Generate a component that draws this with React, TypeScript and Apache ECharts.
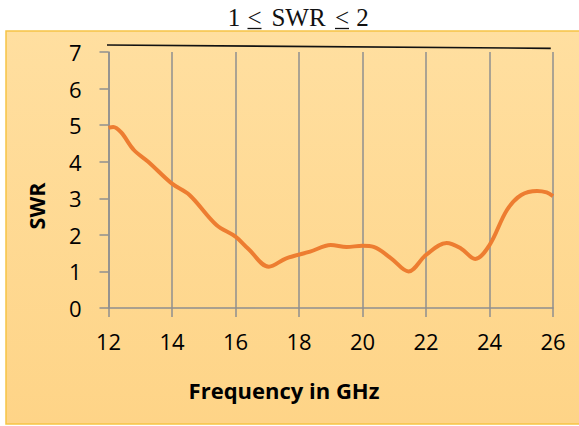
import React, { useEffect, useRef } from "react";
import * as echarts from "echarts";

const freqGHz = [12, 12.15, 12.4, 12.8, 13.25, 14, 14.55, 15.4, 16, 16.4, 17.05, 17.6, 18.35, 19, 19.5, 20, 20.35, 20.9, 21.45, 22, 22.65, 23.1, 23.55, 24, 24.55, 25, 25.5, 25.8, 26];
const swrValues = [4.93, 4.95, 4.8, 4.32, 4.0, 3.4, 3.09, 2.27, 1.95, 1.62, 1.13, 1.36, 1.54, 1.72, 1.67, 1.7, 1.67, 1.36, 1.0, 1.45, 1.78, 1.63, 1.34, 1.72, 2.68, 3.09, 3.2, 3.16, 3.06];
const refLineFreq = [11.93, 25.93];
const refLineSwr = [7.19, 7.1];

const xMin = 12;
const xMax = 26;
const xStep = 2;
const yMin = 0;
const yMax = 7;
const yStep = 1;

const titleParts = ["1", "<", "SWR", "<", "2"];
const xAxisTitle = "Frequency in GHz";
const yAxisTitle = "SWR";

export default function App() {
  const ref = useRef<HTMLDivElement>(null);
  useEffect(() => {
    document.body.style.margin = "0";
    const chart = echarts.init(ref.current!, undefined, { renderer: "svg" });
    const gray = "#8F8F8F";
    const titleX = [234, 254.5, 298.5, 342, 362.5];
    const titleFont = "Liberation Serif";
    const sans = "Open Sans";
    const option: any = {
      animation: false,
      graphic: [
        {
          type: "rect",
          z: -10,
          shape: { x: 6, y: 31, width: 590, height: 393 },
          style: {
            fill: new echarts.graphic.LinearGradient(0, 0, 0, 1, [
              { offset: 0, color: "#FFDFA0" },
              { offset: 1, color: "#FED487" },
            ]),
            stroke: "#F6C445",
            lineWidth: 1.5,
          },
        },
        ...titleParts.map((t, i) => ({
          type: "text",
          x: titleX[i],
          y: 17,
          style: {
            text: t,
            fontSize: 25,
            fontFamily: titleFont,
            fill: "#111",
            align: "center",
            verticalAlign: "middle",
            textAlign: "center",
            textVerticalAlign: "middle",
          },
        })),
        { type: "line", shape: { x1: 247.5, y1: 28.5, x2: 261.5, y2: 28.5 }, style: { stroke: "#111", lineWidth: 1.3 } },
        { type: "line", shape: { x1: 335, y1: 28.5, x2: 349, y2: 28.5 }, style: { stroke: "#111", lineWidth: 1.3 } },
        {
          type: "text",
          x: 284,
          y: 390,
          style: {
            text: xAxisTitle,
            fontSize: 22,
            fontWeight: "bold",
            fontFamily: sans,
            fill: "#000",
            align: "center",
            verticalAlign: "middle",
            textAlign: "center",
            textVerticalAlign: "middle",
          },
        },
        {
          type: "text",
          x: 36,
          y: 206,
          rotation: Math.PI / 2,
          style: {
            text: yAxisTitle,
            fontSize: 21.5,
            fontWeight: "bold",
            fontFamily: sans,
            fill: "#000",
            align: "center",
            verticalAlign: "middle",
            textAlign: "center",
            textVerticalAlign: "middle",
          },
        },
      ],
      grid: { left: 108.5, right: 26, top: 52, bottom: 118 },
      xAxis: {
        type: "value",
        min: xMin,
        max: xMax,
        interval: xStep,
        axisLine: { show: true, lineStyle: { color: gray, width: 1.5 } },
        axisTick: { show: true, length: 9, lineStyle: { color: gray, width: 1.5 } },
        splitLine: { show: true, lineStyle: { color: gray, width: 1.5 } },
        axisLabel: { fontSize: 22, fontFamily: sans, color: "#000", margin: 22 },
      },
      yAxis: {
        type: "value",
        min: yMin,
        max: yMax,
        interval: yStep,
        axisLine: { show: true, lineStyle: { color: gray, width: 1.5 } },
        axisTick: { show: true, length: 9, lineStyle: { color: gray, width: 1.5 } },
        splitLine: { show: false },
        axisLabel: { fontSize: 22, fontFamily: sans, color: "#000", margin: 27 },
      },
      series: [
        {
          type: "line",
          data: freqGHz.map((f, i) => [f, swrValues[i]]),
          smooth: 0.35,
          showSymbol: false,
          lineStyle: { color: "#ED7D31", width: 4 },
          z: 3,
        },
        {
          type: "line",
          data: refLineFreq.map((f, i) => [f, refLineSwr[i]]),
          clip: false,
          showSymbol: false,
          lineStyle: { color: "#111", width: 1.6 },
          z: 3,
        },
      ],
    };
    chart.setOption(option);
    return () => chart.dispose();
  }, []);
  return (
    <div
      ref={ref}
      style={{ position: "absolute", left: 0, top: 0, width: 579, height: 426 }}
    />
  );
}
